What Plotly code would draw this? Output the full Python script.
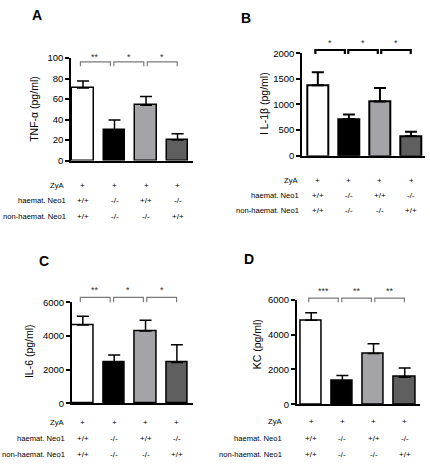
import plotly.graph_objects as go

# ---------------- data ----------------
bar_index = [0, 1, 2, 3]
bar_colors = ["#ffffff", "#000000", "#a4a4a8", "#5f5f5f"]

tnf_mean = [70.8, 29.5, 53.9, 20.0]
tnf_sem = [6.9, 10.1, 8.6, 6.3]
il1b_mean = [1377, 716, 1060, 387]
il1b_sem = [253, 90, 260, 83]
il6_mean = [4642, 2437, 4294, 2420]
il6_sem = [523, 426, 638, 1062]
kc_mean = [4822, 1346, 2916, 1553]
kc_sem = [432, 299, 561, 522]

sig_A = ["**", "*", "*"]
sig_B = ["*", "*", "*"]
sig_C = ["**", "*", "*"]
sig_D = ["***", "**", "**"]

row_labels = ["ZyA", "haemat. Neo1", "non-haemat. Neo1"]
zya_row = ["+", "+", "+", "+"]
haemat_row = ["+/+", "-/-", "+/+", "-/-"]
nonhaemat_row = ["+/+", "-/-", "-/-", "+/+"]

W, H = 430, 473
REG = "Liberation Sans, Arial, sans-serif"


def px(x):
    return x / W


def py(y):
    return 1 - y / H


panels = [
    dict(letter="A", mean=tnf_mean, sem=tnf_sem, sig=sig_A, ymax=100, dtick=20,
         title="TNF-α (pg/ml)", xdom=(71, 193), ydom=(53.3, 158.3), xr=(-0.38, 3.49),
         br=(0.962, 0.92, 1.015), bcol="#7a7a7a", bw=1.2, lw=1.5,
         rows=(183.3, 199, 215), lab_right=(65.5, 68, 68), title_xy=(33.3, 105),
         letter_xy=(36.7, 9.5)),
    dict(letter="B", mean=il1b_mean, sem=il1b_sem, sig=sig_B, ymax=2000, dtick=500,
         title="I L-1β (pg/ml)", xdom=(302.3, 425), ydom=(48.3, 153.3), xr=(-0.5, 3.45),
         br=(1.031, 0.993, 1.095), bcol="#000000", bw=2.2, lw=2,
         rows=(178.3, 194.3, 209.3), lab_right=(300, 301, 301), title_xy=(263.3, 100),
         letter_xy=(246, 12.7)),
    dict(letter="C", mean=il6_mean, sem=il6_sem, sig=sig_C, ymax=6000, dtick=2000,
         title="IL-6 (pg/ml)", xdom=(71.7, 193.2), ydom=(303.3, 406.7), xr=(-0.355, 3.52),
         br=(1.048, 1.0, 1.119), bcol="#7a7a7a", bw=1.2, lw=1.5,
         rows=(426.7, 443.3, 459.3), lab_right=(65.7, 66.5, 66.5), title_xy=(28.3, 353),
         letter_xy=(44.3, 261)),
    dict(letter="D", mean=kc_mean, sem=kc_sem, sig=sig_D, ymax=6000, dtick=2000,
         title="KC (pg/ml)", xdom=(296.7, 420), ydom=(300.7, 407.7), xr=(-0.465, 3.49),
         br=(1.016, 0.976, 1.084), bcol="#7a7a7a", bw=1.2, lw=1.5,
         rows=(425.7, 442.7, 459), lab_right=(284, 284, 284), title_xy=(256.7, 346.7),
         letter_xy=(249.3, 258.8)),
]

fig = go.Figure()
annotations = []
shapes = []
layout = {}

for k, p in enumerate(panels, start=1):
    xa = "x" if k == 1 else f"x{k}"
    ya = "y" if k == 1 else f"y{k}"
    xkey = "xaxis" if k == 1 else f"xaxis{k}"
    ykey = "yaxis" if k == 1 else f"yaxis{k}"

    fig.add_trace(go.Bar(
        x=bar_index, y=p["mean"], width=0.68,
        marker=dict(color=bar_colors, line=dict(color="black", width=p["lw"])),
        error_y=dict(type="data", array=p["sem"], arrayminus=[0] * 4, symmetric=False,
                     color="black", thickness=p["lw"], width=6),
        xaxis=xa, yaxis=ya, showlegend=False, hoverinfo="skip",
    ))

    layout[xkey] = dict(domain=[px(p["xdom"][0]), px(p["xdom"][1])], range=list(p["xr"]),
                        anchor=ya, showline=True, linecolor="black", linewidth=p["lw"],
                        showticklabels=False, ticks="", showgrid=False, zeroline=False,
                        fixedrange=True)
    layout[ykey] = dict(domain=[py(p["ydom"][1]), py(p["ydom"][0])], range=[0, p["ymax"]],
                        anchor=xa, showline=True, linecolor="black", linewidth=p["lw"],
                        ticks="outside", ticklen=4, tickwidth=p["lw"], tickcolor="black",
                        dtick=p["dtick"], tick0=0, showgrid=False, zeroline=False,
                        tickfont=dict(family=REG, size=9.5, color="black"),
                        fixedrange=True)

    # significance brackets
    top, leg, star_y = p["br"]
    for i, s in enumerate(p["sig"]):
        x0 = i * 1.06 - 0.08
        x1 = i * 1.06 + 0.87
        shapes.append(dict(type="path", xref=xa, yref=f"{ya} domain",
                           path=f"M {x0},{leg} L {x0},{top} L {x1},{top} L {x1},{leg}",
                           line=dict(color=p["bcol"], width=p["bw"])))
        annotations.append(dict(x=(x0 + x1) / 2, y=star_y, xref=xa, yref=f"{ya} domain",
                                text=s, showarrow=False, xanchor="center", yanchor="middle",
                                font=dict(family=REG, size=9, color="#333333")))

    # rows beneath
    for r, (lab, vals) in enumerate(zip(row_labels, [zya_row, haemat_row, nonhaemat_row])):
        yy = py(p["rows"][r])
        annotations.append(dict(x=px(p["lab_right"][r]), y=yy, xref="paper", yref="paper",
                                text=lab, showarrow=False, xanchor="right", yanchor="middle",
                                font=dict(family=REG, size=7.6, color="black")))
        for i, v in enumerate(vals):
            annotations.append(dict(x=bar_index[i], y=yy, xref=xa, yref="paper", text=v,
                                    showarrow=False, xanchor="center", yanchor="middle",
                                    font=dict(family=REG, size=8, color="black")))

    # axis title
    annotations.append(dict(x=px(p["title_xy"][0]), y=py(p["title_xy"][1]), xref="paper",
                            yref="paper", text=p["title"], textangle=-90, showarrow=False,
                            xanchor="center", yanchor="middle",
                            font=dict(family=REG, size=10.5, color="black")))
    # panel letter
    annotations.append(dict(x=px(p["letter_xy"][0]), y=py(p["letter_xy"][1]), xref="paper",
                            yref="paper", text=f"<b>{p['letter']}</b>", showarrow=False,
                            xanchor="center", yanchor="middle",
                            font=dict(family=REG, size=14, color="black")))

fig.update_layout(
    width=W, height=H, margin=dict(l=0, r=0, t=0, b=0),
    paper_bgcolor="white", plot_bgcolor="white", showlegend=False,
    annotations=annotations, shapes=shapes, bargap=0, **layout,
)

fig.write_html("out.html", config={"displayModeBar": False},
               post_script="document.body.style.margin='0px';")
